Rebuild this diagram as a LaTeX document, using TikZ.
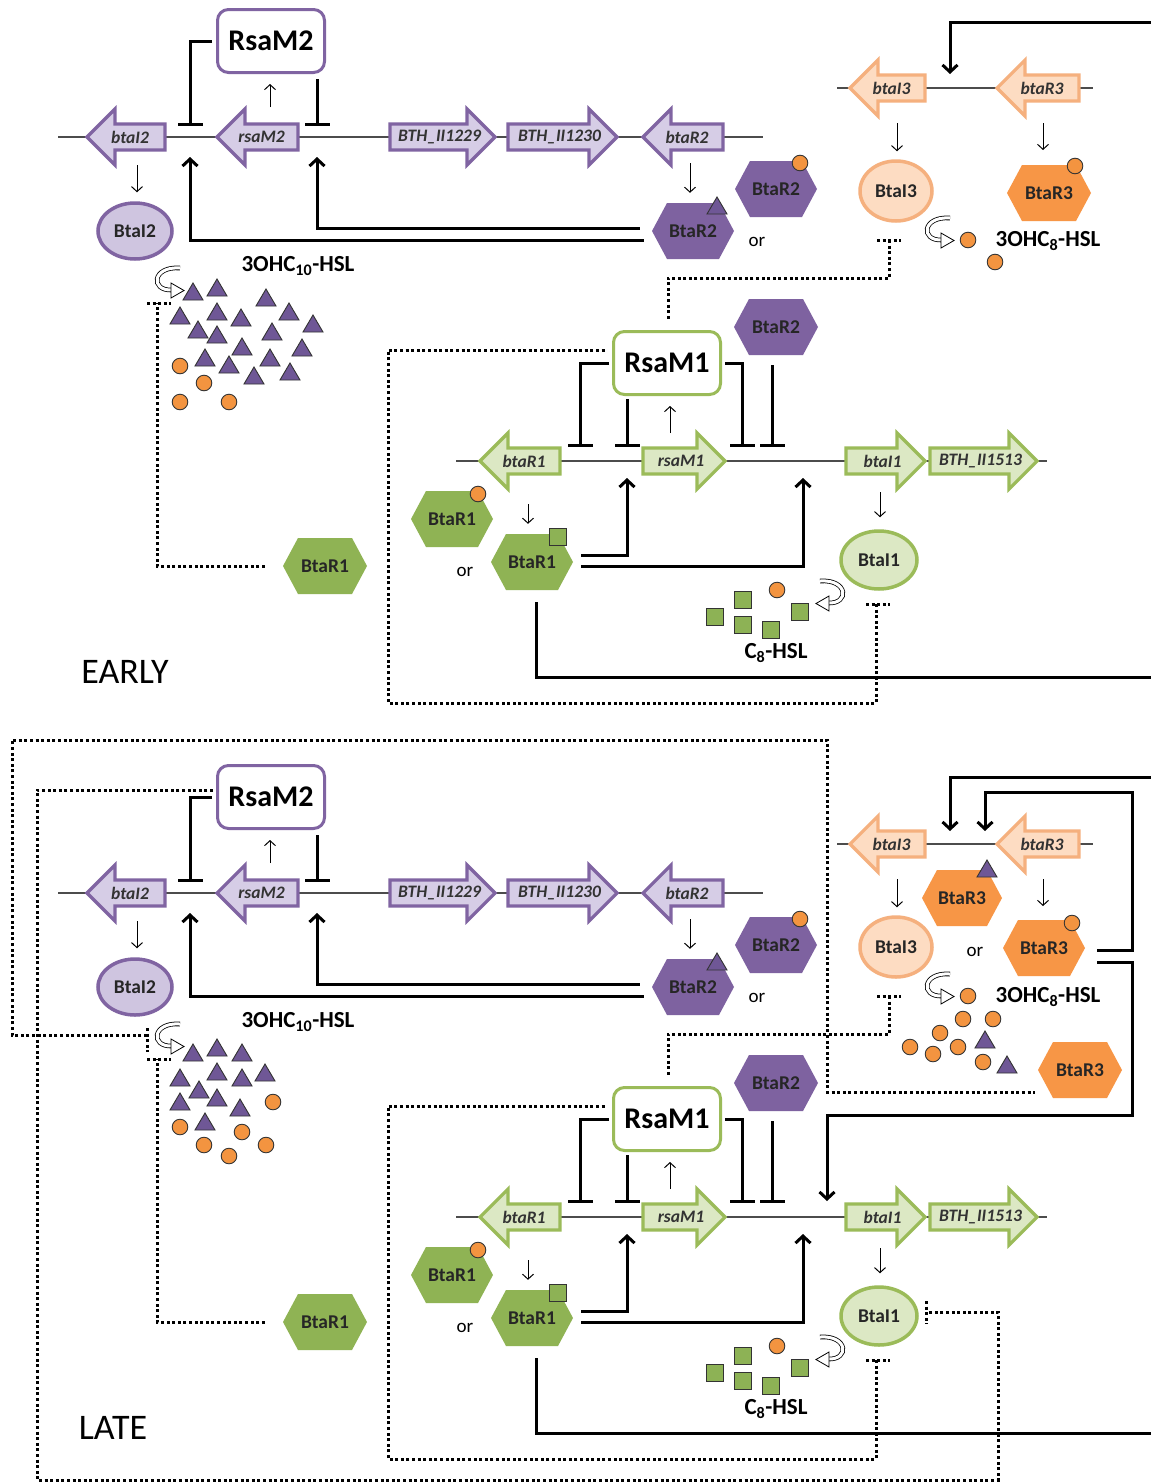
\documentclass[tikz,border=0pt]{standalone}
\usepackage{fontspec}
\setmainfont{Carlito}
\usetikzlibrary{arrows.meta,calc,shapes.geometric}
\definecolor{pdark}{HTML}{8064A2}
\definecolor{plight}{HTML}{D6CDE6}
\definecolor{pell}{HTML}{CFC5E0}
\definecolor{phex}{HTML}{7E62A0}
\definecolor{ptri}{HTML}{6F5796}
\definecolor{gdark}{HTML}{9BBB59}
\definecolor{glight}{HTML}{DCE8C4}
\definecolor{ghex}{HTML}{8FB354}
\definecolor{gsq}{HTML}{8DB255}
\definecolor{odark}{HTML}{F79646}
\definecolor{olight}{HTML}{FDDCC2}
\definecolor{oborder}{HTML}{F5B07E}
\definecolor{ocirc}{HTML}{F39440}

\tikzset{
 gline/.style={line width=1.3pt,black!70},
 act/.style={line width=3pt,-{Straight Barb[length=7pt,width=15pt]}},
 rep/.style={line width=3pt,-{Bar[width=25pt]}},
 prod/.style={line width=1pt,-{Straight Barb[length=5pt,width=11pt]}},
 dotline/.style={line width=3pt,dash pattern=on 3pt off 2.6pt},
 ptxt/.style={font=\bfseries\fontsize{19.5}{20}\selectfont,text=black!85,inner sep=0pt},
 prottxt/.style={ptxt,minimum height=56pt},
 ellprot/.style={ptxt,ellipse,line width=3.5pt},
 genetxt/.style={font=\bfseries\itshape\fontsize{17.5}{18}\selectfont,text=black!80,inner sep=0pt},
 bigbox/.style={rectangle,rounded corners=11pt,line width=3pt,fill=white,font=\bfseries\fontsize{30}{32}\selectfont,inner sep=0pt,minimum width=107pt,minimum height=63pt},
 hsl/.style={font=\bfseries\fontsize{23}{25}\selectfont,inner sep=0pt},
 ortxt/.style={font=\fontsize{19}{20}\selectfont,inner sep=0pt},
 phaselbl/.style={font=\fontsize{36}{40}\selectfont,inner sep=0pt},
 recyc/.pic={
  \draw[line width=0.8pt,double=white,double distance=3pt] (10,-13) .. controls (-18,-15) and (-20,10) .. (2,9);
  \filldraw[fill=white,draw=black,line width=0.8pt,line join=miter] (1,2) -- (14,9.5) -- (1,17) -- cycle;
 }
}

% hexagon protein: name, x, y, fill, text, half width
\newcommand\mkhex[6]{%
 \fill[#4] (#2-#6,#3) -- (#2-#6+15,#3-28) -- (#2+#6-15,#3-28) -- (#2+#6,#3) -- (#2+#6-15,#3+28) -- (#2-#6+15,#3+28) -- cycle;
 \node[prottxt,minimum width={2*#6}] (#1) at (#2,#3) {#5};}
% left-pointing gene: name, xtip, xright, y, fill, draw, text
\newcommand\mkgeneL[7]{%
 \filldraw[fill=#5,draw=#6,line width=3.2pt] (#2,#4) -- (#2+28,#4-28) -- (#2+28,#4-13) -- (#3,#4-13) -- (#3,#4+13) -- (#2+28,#4+13) -- (#2+28,#4+28) -- cycle;
 \node[genetxt] (#1) at ({(#2+#3)/2+4},#4) {#7};}
% right-pointing gene: name, xleft, xtip, y, fill, draw, text
\newcommand\mkgeneR[7]{%
 \filldraw[fill=#5,draw=#6,line width=3.2pt] (#3,#4) -- (#3-28,#4-28) -- (#3-28,#4-13) -- (#2,#4-13) -- (#2,#4+13) -- (#3-28,#4+13) -- (#3-28,#4+28) -- cycle;
 \node[genetxt] (#1) at ({(#2+#3)/2-3},#4) {#7};}
\newcommand\mcirc[2]{\filldraw[fill=ocirc,draw=black!80,line width=0.9pt] (#1,#2) circle[radius=7.8];}
\newcommand\mtri[2]{\filldraw[fill=ptri,draw=black!80,line width=0.9pt] (#1-10,#2+8) -- (#1,#2-9) -- (#1+10,#2+8) -- cycle;}
\newcommand\msq[2]{\filldraw[fill=gsq,draw=black!80,line width=0.9pt] (#1-8.5,#2-8.5) rectangle (#1+8.5,#2+8.5);}

\newcommand\drawpanel[1]{%
 % ---- operon 2 (purple)
 \draw[gline] (58,137) -- (763,137);
 \coordinate (pa#1) at (190,137);
 \coordinate (pb#1) at (317,137);
 \node[bigbox,draw=pdark] (rsamtwo#1) at (271,41) {RsaM2};
 \draw[rep] ([xshift=-4pt]rsamtwo#1.west) -| ([yshift=11pt]pa#1);
 \draw[rep] ([yshift=-5pt]rsamtwo#1.south -| pb#1) -- ([yshift=11pt]pb#1);
 \mkhex{rtwotri#1}{693}{231}{phex}{BtaR2}{41}
 \mkhex{rtwocirc#1}{776}{189}{phex}{BtaR2}{41}
 \draw[act] ([xshift=-12pt,yshift=3pt]rtwotri#1.west) -| ([yshift=-20pt]pb#1);
 \draw[act] ([xshift=-8pt,yshift=-9pt]rtwotri#1.west) -| ([yshift=-20pt]pa#1);
 \mkgeneL{gbtaitwo#1}{87}{165}{137}{plight}{pdark}{btaI2}
 \mkgeneL{grsamtwo#1}{217}{298}{137}{plight}{pdark}{rsaM2}
 \mkgeneR{gbth1229#1}{390}{495}{137}{plight}{pdark}{BTH\_II1229}
 \mkgeneR{gbth1230#1}{508}{617}{137}{plight}{pdark}{BTH\_II1230}
 \mkgeneL{gbtartwo#1}{643}{723}{137}{plight}{pdark}{btaR2}
 \draw[prod] (270,107) -- ([yshift=-10pt]rsamtwo#1.south -| 270,0);
 \node[ellprot,draw=pdark,fill=pell,minimum width=74pt,minimum height=56pt] (btaitwo#1) at (135,231) {BtaI2};
 \draw[prod] (137,165) -- ([xshift=2pt,yshift=9pt]btaitwo#1.north);
 \draw[prod] (690,163) -- ([xshift=-3pt,yshift=10pt]rtwotri#1.north);
 \mtri{717}{206}
 \mcirc{800}{163}
 \node[ortxt] (ortwo#1) at (757,242) {or};
 \node[hsl] (hslten#1) at (298,266) {3OHC\textsubscript{10}-HSL};
 \pic at (170,281) {recyc};
 % ---- BtaR1 alone
 \mkhex{ronealone#1}{325}{566}{ghex}{BtaR1}{42}
 \draw[dotline] ([xshift=-18pt]ronealone#1.west) -| (157,303);
 \draw[dotline] (147,303) -- (171,303);
 % ---- operon 1 (green)
 \draw[gline] (456,461) -- (1047,461);
 \coordinate (pc#1) at (580,461);
 \coordinate (pd#1) at (627,461);
 \coordinate (pe#1) at (742,461);
 \coordinate (pf#1) at (772,461);
 \coordinate (pg#1) at (803,461);
 \node[bigbox,draw=gdark] (rsamone#1) at (667,363) {RsaM1};
 \mkhex{rtwoalone#1}{776}{327}{phex}{BtaR2}{42}
 \draw[rep] ([xshift=-3pt]rsamone#1.west) -| ([yshift=14pt]pc#1);
 \draw[rep] ([yshift=-3pt]rsamone#1.south -| pd#1) -- ([yshift=14pt]pd#1);
 \draw[rep] ([xshift=3pt]rsamone#1.east) -| ([yshift=14pt]pe#1);
 \draw[rep] ([yshift=-10pt]rtwoalone#1.south -| pf#1) -- ([yshift=14pt]pf#1);
 \mkhex{ronecirc#1}{452}{519}{ghex}{BtaR1}{41}
 \mkhex{ronesq#1}{532}{562}{ghex}{BtaR1}{41}
 \draw[act] ([xshift=8pt,yshift=7pt]ronesq#1.east) -| ([yshift=-17pt]pd#1);
 \draw[act] ([xshift=8pt,yshift=-4pt]ronesq#1.east) -| ([yshift=-17pt]pg#1);
 \draw[line width=3pt] ([xshift=4pt,yshift=-12pt]ronesq#1.south) |- (1153,677);
 \mkgeneL{gbtarone#1}{480}{560}{461}{glight}{gdark}{btaR1}
 \mkgeneR{grsamone#1}{643}{725}{461}{glight}{gdark}{rsaM1}
 \mkgeneR{gbtaione#1}{846}{925}{461}{glight}{gdark}{btaI1}
 \mkgeneR{gbth1513#1}{930}{1037}{461}{glight}{gdark}{BTH\_II1513}
 \draw[prod] (670,433) -- ([yshift=-10pt]rsamone#1.south -| 670,0);
 \draw[prod] (528,504) -- ([xshift=-4pt,yshift=10pt]ronesq#1.north);
 \mcirc{478}{494}
 \msq{558}{537}
 \node[ortxt] (orone#1) at (465,572) {or};
 \node[ellprot,draw=gdark,fill=glight,minimum width=76pt,minimum height=58pt] (btaione#1) at (879,560) {BtaI1};
 \draw[prod] (880,492) -- ([xshift=1pt,yshift=12pt]btaione#1.north);
 \pic[xscale=-1] at (830,594) {recyc};
 \node[hsl] (hsleight#1) at (776,653) {C\textsubscript{8}-HSL};
 \msq{715}{617} \msq{743}{600} \msq{743}{625} \msq{771}{630} \msq{800}{612}
 \mcirc{777}{590}
 \draw[dotline] (866,604) -- (890,604);
 \draw[dotline] (876,604) -- (876,703) -- (388,703) -- (388,350) -- ([xshift=-5pt,yshift=13pt]rsamone#1.west);
 % ---- operon 3 (orange)
 \draw[gline] (837,88) -- (1093,88);
 \mkgeneL{gbtaithree#1}{850}{925}{88}{olight}{oborder}{btaI3}
 \mkgeneL{gbtarthree#1}{997}{1079}{88}{olight}{oborder}{btaR3}
 \node[ellprot,draw=oborder,fill=olight,minimum width=72pt,minimum height=60pt] (btaithree#1) at (896,191) {BtaI3};
 \draw[prod] (897,123) -- ([xshift=1pt,yshift=8pt]btaithree#1.north);
 \draw[prod] (1043,123) -- (1043,150);
 \node[hsl] (hsleightb#1) at (1048,241) {3OHC\textsubscript{8}-HSL};
 \pic at (940,231) {recyc};
 \mcirc{968}{240}
 \draw[dotline] (877,240) -- (901,240);
 \draw[dotline] (889,240) -- (889,278) -- (668,278) -- ([yshift=11pt]rsamone#1.north -| 668,0);
}

\begin{document}
\begin{tikzpicture}[x=1pt,y=-1pt]
\fill[white] (0,0) rectangle (1151,1483);
\useasboundingbox (0,0) rectangle (1151,1483);

% ================= EARLY =================
\drawpanel{e}
\mkhex{rthreee}{1049}{193}{odark}{BtaR3}{42}
\mcirc{1075}{166}
\mcirc{995}{262}
\coordinate (outtope) at (1153,22);
\draw[act] (outtope) -| (950,74);
\foreach \p in {(193,292),(217,288),(266,298),(289,312),(313,324),(180,316),(217,312),(241,318),(198,330),(217,335),(272,332),(242,347),(302,348),(205,358),(229,365),(270,358),(254,376),(290,372)}{
  \path \p coordinate (tt);
  \filldraw[fill=ptri,draw=black!80,line width=0.9pt] ($(tt)+(-10,8)$) -- ($(tt)+(0,-9)$) -- ($(tt)+(10,8)$) -- cycle;}
\mcirc{180}{366} \mcirc{204}{383} \mcirc{180}{402} \mcirc{229}{402}
\node[phaselbl] (early) at (125,672) {EARLY};

% ================= LATE =================
\begin{scope}[yshift=-756pt]
\drawpanel{l}
\end{scope}
\mkhex{rthreetril}{962}{898}{odark}{BtaR3}{40}
\mtri{987}{869}
\mkhex{rthreecircl}{1044}{948}{odark}{BtaR3}{41}
\mcirc{1072}{923}
\node[ortxt] (orthreel) at (975,952) {or};
\mkhex{rthreealonel}{1080}{1070}{odark}{BtaR3}{42}
\coordinate (outtopl) at (1153,777);
\draw[act] (outtopl) -| (950,831);
\draw[act] ([xshift=12pt,yshift=-2pt]rthreecircl.east) -- (1132,950) |- (985,792) -- (985,831);
\draw[act] ([xshift=12pt,yshift=-14pt]rthreecircl.east) -- (1132,962) |- (827,1115) -- (827,1201);
\mcirc{963}{1019} \mcirc{993}{1019} \mcirc{940}{1033} \mcirc{910}{1047}
\mcirc{933}{1054} \mcirc{958}{1047} \mcirc{983}{1062}
\mtri{985}{1040} \mtri{1007}{1065}
\foreach \p in {(193,1053),(217,1048),(242,1053),(180,1078),(217,1072),(242,1078),(265,1073),(199,1090),(217,1098),(180,1102),(240,1108),(205,1122)}{
  \path \p coordinate (tt);
  \filldraw[fill=ptri,draw=black!80,line width=0.9pt] ($(tt)+(-10,8)$) -- ($(tt)+(0,-9)$) -- ($(tt)+(10,8)$) -- cycle;}
\mcirc{273}{1102} \mcirc{180}{1127} \mcirc{242}{1132} \mcirc{204}{1145} \mcirc{229}{1156} \mcirc{266}{1145}
% outer dotted loops
\draw[dotline] ([xshift=-3pt,yshift=7pt]rsamtwol.west) -- (37,790) -- (37,1480) -- (998,1480) -- (998,1312) -- ([xshift=8pt,yshift=4pt]btaionel.east);
\draw[dotline] (926,1301) -- (926,1324);
\draw[dotline] (147,1028) -- (147,1052);
\draw[dotline] (147,1035) -- (12,1035) -- (12,740) -- (827,740) -- (827,1092) -- ([xshift=-3pt,yshift=-22pt]rthreealonel.west);
\node[phaselbl] (late) at (113,1428) {LATE};
\end{tikzpicture}
\end{document}
